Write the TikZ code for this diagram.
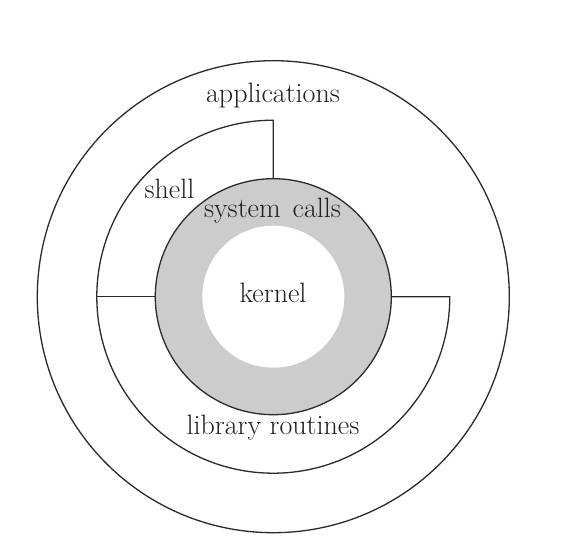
\documentclass[tikz,border=0pt]{standalone}
\usetikzlibrary{calc}
\definecolor{linec}{HTML}{2A2A2A}
\definecolor{ringgray}{HTML}{CCCCCC}
\definecolor{textc}{HTML}{1E1E1E}
\tikzset{
  ring/.style={draw=linec, line width=1.3pt},
  lbl/.style={anchor=base, inner sep=0pt, text=textc, font=\fontsize{28}{32}\selectfont},
}
\begin{document}
\begin{tikzpicture}[x=1pt,y=1pt]
\useasboundingbox (0,0) rectangle (588,543);
\coordinate (C) at (273.3,246.3);
% outer circle (applications)
\draw[ring] (C) circle[radius=236];
% system calls ring
\draw[ring, fill=ringgray] (C) circle[radius=118];
% kernel core
\fill[white] (C) circle[radius=71];
% shell / library routines boundary
\coordinate (gtop) at ($(C)+(90:118)$);
\coordinate (gleft) at ($(C)+(180:118)$);
\coordinate (gright) at ($(C)+(0:118)$);
\coordinate (mleft) at ($(C)+(180:176.5)$);
\draw[ring] (gtop) -- ++(0,58.5) arc[start angle=90, end angle=360, radius=176.5] -- (gright);
\draw[ring] (mleft) -- (gleft);
% labels
\node[lbl] (apps) at (273,440) {applications};
\node[lbl] (shell) at (169.4,344.7) {shell};
\node[lbl] (sys) at (272.5,325.8) {system\hspace{12pt}calls};
\node[lbl] (kern) at (273,240.3) {kernel};
\node[lbl] (lib) at (273,108) {library routines};
\end{tikzpicture}
\end{document}
